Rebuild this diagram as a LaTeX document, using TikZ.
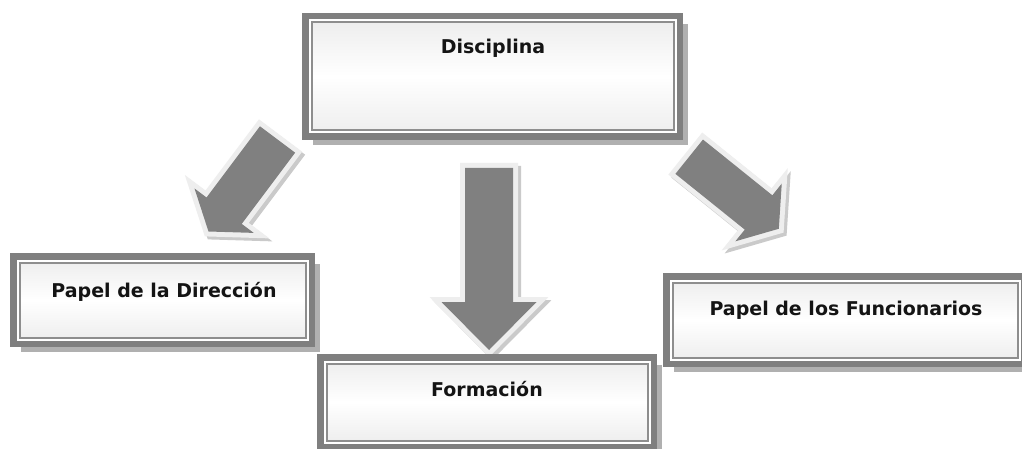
\documentclass[tikz,border=0pt]{standalone}
\usepackage{fontspec}
\setmainfont{DejaVu Sans}
\usetikzlibrary{shadows}
\definecolor{bordergray}{HTML}{7F7F7F}
\definecolor{thingray}{HTML}{8E8E8E}
\definecolor{shadowgray}{HTML}{B0B0B0}
\definecolor{arrowgray}{HTML}{808080}
\definecolor{arrowedge}{HTML}{EEEEEE}
\definecolor{arrowshadow}{HTML}{CACACA}
\definecolor{fillgray}{HTML}{ECECEC}
\def\smallarr{(0,-22) -- (89,-22) -- (89,-37) -- (115,0) -- (89,37) -- (89,22) -- (0,22) -- cycle}
\def\bigarr{(0,-24) -- (134,-24) -- (134,-47.5) -- (182,0) -- (134,47.5) -- (134,24) -- (0,24) -- cycle}
\newcommand\mkarrow[3]{%
  \begin{scope}[shift={(#1)}, shift={(3,3)}, rotate=#2]
    \draw[arrowshadow, line width=10pt, line join=miter] #3;
  \end{scope}
  \begin{scope}[shift={(#1)}, rotate=#2]
    \draw[arrowedge, line width=10pt, line join=miter] #3;
    \fill[arrowgray] #3;
  \end{scope}}
\begin{document}
\begin{tikzpicture}[x=1pt,y=-1pt,
  boxnode/.style={rectangle, draw=bordergray, line width=6.5pt, inner sep=0pt, outer sep=0pt,
    top color=fillgray, bottom color=fillgray, middle color=white,
    drop shadow={shadow xshift=8pt, shadow yshift=-8pt, fill=shadowgray, opacity=1},
    path picture={
      \draw[white, line width=2pt] ([xshift=4.25pt,yshift=-4.25pt]path picture bounding box.north west) rectangle ([xshift=-4.25pt,yshift=4.25pt]path picture bounding box.south east);
      \draw[thingray, line width=2pt] ([xshift=6.25pt,yshift=-6.25pt]path picture bounding box.north west) rectangle ([xshift=-6.25pt,yshift=6.25pt]path picture bounding box.south east);
    }},
  lbl/.style={font=\fontsize{19}{23}\selectfont\bfseries, text=black!92, inner sep=0pt, anchor=base}]
\useasboundingbox (0,0) rectangle (1022,449);
\clip (0,0) rectangle (1022,449);
\fill[white] (0,0) rectangle (1022,449);
% block arrows
\mkarrow{277.5,139.5}{233.13}{\smallarr}
\mkarrow{489,168}{-90}{\bigarr}
\mkarrow{689.2,156.7}{-38.8}{\smallarr}
% boxes
\node[boxnode, minimum width=374.5pt, minimum height=120.5pt] (disc) at (492.5,76.5) {};
\node[boxnode, minimum width=298.5pt, minimum height=87.5pt] (dir) at (162.5,300) {};
\node[boxnode, minimum width=333.5pt, minimum height=89.5pt] (form) at (487,402) {};
\node[boxnode, minimum width=357.5pt, minimum height=87.5pt] (func) at (845,320) {};
% labels
\node[lbl] (disct) at (493,54) {Disciplina};
\node[lbl] (dirt) at (164,297) {Papel de la Dirección};
\node[lbl] (formt) at (487,396) {Formación};
\node[lbl] (funct) at (846,315) {Papel de los Funcionarios};
\end{tikzpicture}
\end{document}
